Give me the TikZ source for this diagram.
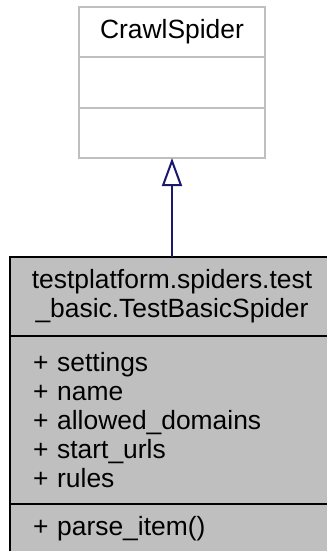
\documentclass[tikz,border=0pt]{standalone}
\usepackage{fontspec}
\setmainfont{Liberation Sans}
\usepackage{xcolor}
\usetikzlibrary{arrows.meta,positioning}

\definecolor{basegray}{RGB}{191,191,191}
\definecolor{edgeblue}{RGB}{25,25,112}

\begin{document}
\begin{tikzpicture}[
        x=0.75pt, y=-0.75pt,
        font=\fontsize{19.8pt}{21.9pt}\selectfont,
        basebox/.style={rectangle, draw=basegray, fill=white, line width=1.5pt, minimum width=139pt, outer sep=0pt, inner sep=0pt, align=center},
        classbox/.style={rectangle, draw=black, fill=basegray, line width=1.6pt, minimum width=243pt, outer sep=0pt, inner sep=0pt, align=center},
        memberbox/.style={classbox, text width=208.5pt, inner xsep=17.25pt, align=left},
        inherit/.style={draw=edgeblue, line width=1.5pt, -{Triangle[length=21pt, width=15pt, fill=white]}}
    ]
    \useasboundingbox (0,0) rectangle (327,551);
    \clip (0,0) rectangle (327,551);

    % Base class
    \node[basebox, minimum height=37.5pt, anchor=north] (crawl) at (172,7) {CrawlSpider};
    \node[basebox, minimum height=38.25pt, below=0pt of crawl] (crawlattr) {};
    \node[basebox, minimum height=37.5pt, below=0pt of crawlattr] (crawlops) {};

    % Derived class
    \node[classbox, minimum height=59.25pt, anchor=north] (spider) at (172,257) {testplatform.spiders.test\\\_basic.TestBasicSpider};
    \node[memberbox, minimum height=126pt, below=0pt of spider] (spiderattr) {+ settings\\+ name\\+ allowed\_domains\\+ start\_urls\\+ rules};
    \node[memberbox, minimum height=36.75pt, below=0pt of spiderattr] (spiderops) {+ parse\_item()};

    % Inheritance
    \draw[inherit] (spider.north) -- (crawlops.south);

\end{tikzpicture}
\end{document}
